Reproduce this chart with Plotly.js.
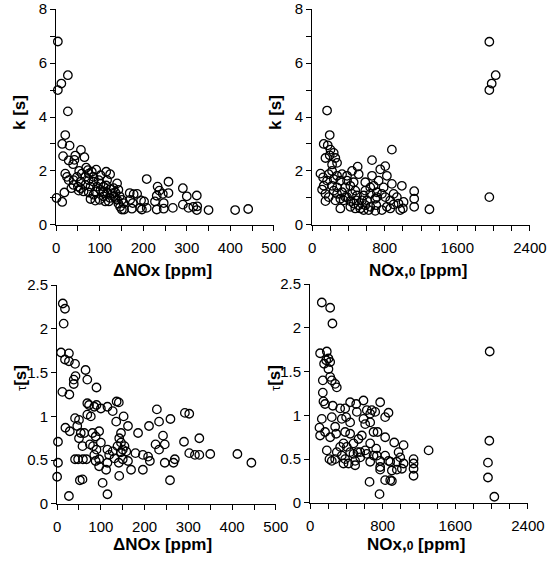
<!DOCTYPE html>
<html><head><meta charset="utf-8">
<script src="https://cdn.plot.ly/plotly-3.0.1.min.js"></script>
<style>html,body{margin:0;padding:0;background:#fff}#chart{width:547px;height:562px}</style>
</head><body><div id="chart"></div>
<script>
// Panel A: k vs ΔNOx
const dNOx_k = [4,4,12,27,27,21,14,31,16,29,42,39,57,65,44,21,25,29,48,56,50,52,35,19,1,14,69,73,75,82,92,67,75,86,102,98,67,79,94,102,63,75,86,79,90,100,109,115,124,117,115,124,132,117,113,136,140,143,132,140,143,147,151,156,146,151,155,169,178,186,170,176,174,193,197,195,202,208,208,227,231,233,237,245,231,247,247,258,258,268,291,300,291,304,323,315,324,323,350,411,441,53,59,40,40,56,86,90,102,108,109,124,130,136,109,121];
const k_dNOx = [6.8,5.0,5.24,5.55,4.21,3.33,3.0,2.94,2.55,2.39,2.41,2.25,2.78,2.51,2.57,1.9,1.78,1.66,1.78,1.6,1.42,1.27,1.36,1.2,1.0,0.85,2.12,2.03,1.9,1.97,2.05,1.78,1.66,1.78,1.84,1.66,1.48,1.42,1.42,1.52,1.24,1.2,1.12,0.96,0.9,0.93,1.06,1.97,1.88,1.66,1.46,1.32,1.36,1.2,0.87,1.2,1.54,1.3,1.06,0.93,0.79,0.67,0.57,0.57,1.06,0.93,0.81,1.18,1.14,1.15,0.93,0.81,0.6,0.63,0.57,0.91,0.87,1.7,0.63,0.87,1.08,1.42,1.27,1.15,0.57,0.81,0.6,1.6,1.18,0.63,1.36,1.06,0.75,0.63,1.09,0.67,0.69,0.55,0.55,0.55,0.59,2.0,1.9,1.66,1.48,1.36,1.6,1.24,1.3,1.18,1.42,1.0,1.18,1.0,1.24,0.87];

// Panel B: k vs NOx,0
const NOx0_k = [1953,1953,1979,2023,1953,165,194,128,172,147,202,238,256,275,194,220,92,121,110,147,128,183,220,238,275,311,238,275,330,366,385,311,421,440,502,513,458,421,476,440,487,513,421,531,586,586,605,641,623,660,660,678,714,696,707,696,733,751,806,824,788,769,806,824,861,879,879,898,934,952,989,1000,1008,971,1125,1125,1125,1293,769,568,366,348,495,641,641,714,550,311,385,385,330,275,220,165,147,183,256,458,476,568,586,861,898];
const k_NOx0 = [6.79,5.0,5.24,5.55,1.03,4.24,3.33,3.0,2.95,2.48,2.79,2.67,2.48,2.3,2.58,2.24,1.9,1.76,1.31,0.88,1.45,1.88,2.0,1.7,1.82,1.64,1.27,1.15,1.21,1.39,1.03,0.61,0.88,2.0,2.16,1.88,1.58,1.45,1.27,1.15,0.91,0.73,0.67,0.61,1.58,1.27,0.91,0.67,0.55,2.4,1.82,1.45,1.21,0.97,0.73,0.52,1.64,2.06,2.18,1.82,1.39,1.15,1.03,0.67,0.61,2.79,1.52,1.15,1.03,0.79,1.45,0.61,0.85,0.55,1.25,0.97,0.67,0.58,0.55,1.09,1.03,0.91,1.09,1.39,1.15,1.03,0.91,0.97,1.64,1.82,1.88,1.39,1.45,1.64,1.15,1.03,0.91,0.79,0.61,0.55,0.73,0.91,0.76];

// Panel C: tau vs ΔNOx
const dNOx_tau = [13,18,15,9,18,27,27,41,12,28,38,42,38,65,69,90,2,2,0,27,19,29,41,50,46,54,50,41,48,58,59,52,58,67,62,69,73,85,69,77,90,100,81,96,88,75,82,90,85,96,88,96,104,112,115,115,115,115,127,136,141,135,152,142,146,142,162,131,119,127,138,146,150,146,158,154,141,150,169,179,185,196,196,208,212,210,228,233,242,225,233,246,246,259,258,269,266,290,292,302,302,315,325,325,350,412,444,100,162];
const tau_dNOx = [2.29,2.23,2.06,1.73,1.65,1.72,1.63,1.6,1.28,1.25,1.42,1.46,1.37,1.53,1.42,1.33,0.71,0.47,0.31,0.09,0.87,0.83,0.98,0.96,0.89,0.81,0.75,0.51,0.51,0.66,0.51,0.27,0.28,0.51,0.81,1.15,1.13,1.11,1.02,1.0,1.13,1.09,0.81,0.83,0.77,0.68,0.66,0.62,0.56,0.51,0.49,0.43,0.24,0.39,0.47,0.62,0.11,1.11,1.06,1.17,1.16,0.94,1.0,0.75,0.81,0.32,0.89,0.52,0.56,0.6,0.66,0.7,0.62,0.59,0.6,0.66,0.47,0.51,0.39,0.58,0.81,0.56,0.39,0.54,0.49,0.89,1.08,0.94,0.78,0.68,0.62,0.68,0.47,0.97,0.27,0.51,0.47,0.71,1.04,1.03,0.58,0.56,0.75,0.56,0.57,0.57,0.47,0.7,0.49];

// Panel D: tau vs NOx,0
const NOx0_tau = [129,221,246,110,184,177,202,221,154,202,140,221,239,276,294,140,147,165,250,129,103,110,165,239,276,221,287,184,213,239,276,294,331,331,386,441,349,397,441,386,441,368,404,349,386,368,423,441,478,496,508,515,533,552,588,588,625,607,570,607,625,662,662,680,717,699,743,662,662,699,655,728,736,772,772,772,765,772,827,864,827,827,864,827,883,901,901,883,927,975,956,993,956,1011,1030,1030,1140,1140,1140,1140,1306,1979,1975,1960,1960,2030,552,496,478,522];
const tau_NOx0 = [2.29,2.23,2.05,1.71,1.73,1.63,1.65,1.61,1.59,1.53,1.4,1.44,1.4,1.36,1.32,1.26,1.16,1.13,1.11,0.96,0.86,0.77,0.81,0.98,0.87,0.75,0.79,0.6,0.5,0.48,0.5,0.58,0.64,1.08,1.08,1.15,0.96,0.98,0.92,0.81,0.79,0.68,0.64,0.54,0.5,0.45,0.45,0.58,0.68,0.48,1.13,1.04,0.73,0.58,0.96,1.17,1.06,0.9,0.77,0.6,0.56,0.92,1.02,1.06,1.04,0.81,0.81,0.68,0.47,0.54,0.24,0.62,0.54,0.48,0.38,1.15,0.1,0.41,0.98,1.03,0.75,0.54,0.48,0.26,0.26,0.37,0.25,0.47,0.69,0.58,0.47,0.52,0.38,0.39,0.66,0.45,0.5,0.45,0.39,0.31,0.6,1.73,0.71,0.46,0.29,0.07,0.52,0.43,0.56,0.58];

const W = 547, H = 562;
const px = v => v / W;
const py = v => 1 - v / H;

const FONT = 'Liberation Sans, Arial, Helvetica, sans-serif';
const marker = {symbol: 'circle-open', size: 8.5, color: '#000', line: {width: 1.3, color: '#000'}};

function tr(x, y, xa, ya) {
  return {x: x, y: y, xaxis: xa, yaxis: ya, type: 'scatter', mode: 'markers', marker: marker, cliponaxis: false, hoverinfo: 'none'};
}

function axis(dom, range, dtick, minorDtick, anchor) {
  const eps = (range[1] - range[0]) * 0.0005;
  const a = {
    domain: dom, range: [range[0] - eps, range[1] + eps], anchor: anchor,
    showline: true, linecolor: '#000', linewidth: 1,
    ticks: 'outside', ticklen: 5, tickwidth: 1, tickcolor: '#000',
    tickmode: 'linear', dtick: dtick, tick0: 0, showgrid: false, zeroline: false,
    tickfont: {family: FONT, size: 15, color: '#000'},
    ticklabeloverflow: 'allow',
    fixedrange: true
  };
  if (minorDtick) a.minor = {dtick: minorDtick, tick0: 0, ticks: 'outside', ticklen: 5, tickwidth: 1, tickcolor: '#000', showgrid: false};
  return a;
}

const data = [
  tr(dNOx_k, k_dNOx, 'x', 'y'),
  tr(NOx0_k, k_NOx0, 'x2', 'y2'),
  tr(dNOx_tau, tau_dNOx, 'x3', 'y3'),
  tr(NOx0_tau, tau_NOx0, 'x4', 'y4')
];

const titleFont = {family: FONT, size: 17, color: '#000', weight: 'bold'};
function ann(text, x, y, angle) {
  return {text: text, xref: 'paper', yref: 'paper', x: px(x), y: py(y), xanchor: 'center', yanchor: 'middle', showarrow: false, textangle: angle || 0, font: titleFont};
}
const nox0 = 'NOx,<span style="font-size:12px">0</span> [ppm]';

const layout = {
  width: W, height: H,
  margin: {l: 0, r: 0, t: 0, b: 0},
  paper_bgcolor: '#fff', plot_bgcolor: 'rgba(0,0,0,0)',
  showlegend: false,
  xaxis:  Object.assign(axis([px(56), px(274)], [0, 500], 100, 50, 'y'), {ticklabelstandoff: 4}),
  yaxis:  axis([py(225), py(9)], [0, 8], 2, 1, 'x'),
  xaxis2: Object.assign(axis([px(312), px(530)], [0, 2400], 800, 200, 'y2'), {ticklabelstandoff: 4}),
  yaxis2: axis([py(225), py(9)], [0, 8], 2, 1, 'x2'),
  xaxis3: Object.assign(axis([px(57), px(276)], [0, 500], 100, 50, 'y3'), {ticklabelstandoff: 4}),
  yaxis3: axis([py(504), py(285)], [0, 2.5], 0.5, null, 'x3'),
  xaxis4: Object.assign(axis([px(310), px(528)], [0, 2400], 800, 200, 'y4'), {ticklabelstandoff: 4}),
  yaxis4: axis([py(503), py(284)], [0, 2.5], 0.5, null, 'x4'),
  annotations: [
    ann('ΔNOx [ppm]', 162, 270),
    ann(nox0, 418, 270),
    ann('ΔNOx [ppm]', 162, 544),
    ann(nox0, 416, 544),
    ann('k [s]', 20, 113, -90),
    ann('k [s]', 276, 113, -90),
    ann('<span style="font-weight:normal;font-size:13px">τ</span>[s]', 20, 378, -90),
    ann('<span style="font-weight:normal;font-size:13px">τ</span>[s]', 274, 378, -90)
  ]
};

Plotly.newPlot('chart', data, layout, {staticPlot: true, displayModeBar: false});
</script>
</body></html>
